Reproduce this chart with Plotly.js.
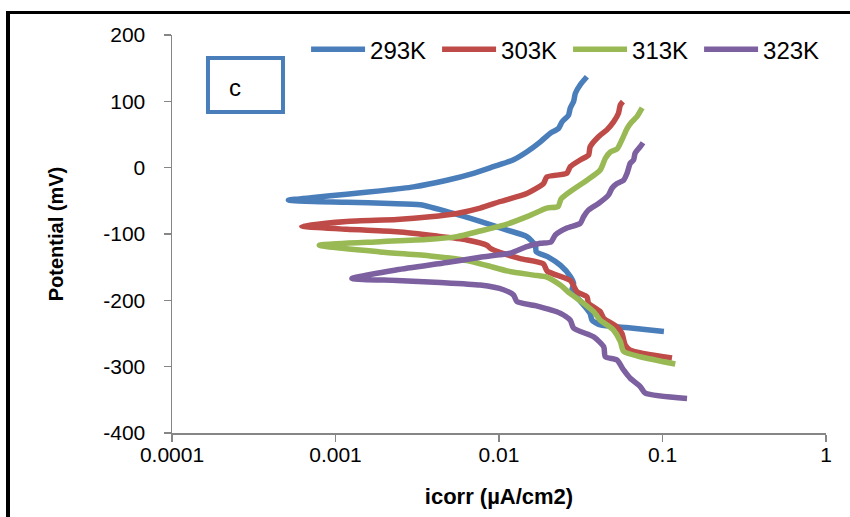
<!DOCTYPE html>
<html>
<head>
<meta charset="utf-8">
<script src="https://cdn.plot.ly/plotly-3.0.1.min.js"></script>
<style>
html,body{margin:0;padding:0;background:#fff;overflow:hidden;}
#wrap{position:relative;width:850px;height:517px;}
#chart{position:absolute;left:0;top:0;width:850px;height:517px;}
#frame{position:absolute;left:6px;top:11px;width:900px;height:600px;border-left:4px solid #000;border-top:3px solid #000;pointer-events:none;}
</style>
</head>
<body>
<div id="wrap"><div id="chart"></div><div id="frame"></div></div>
<script>
// Series names
const seriesNames = ['293K', '303K', '313K', '323K'];

// 293K
const x293 = [0.102, 0.06, 0.0416, 0.0371, 0.0361, 0.0329, 0.0279, 0.0286, 0.0273, 0.0237, 0.0198, 0.0169, 0.0167, 0.0148, 0.0112, 0.00767, 0.00527, 0.0033, 0.00216, 0.00117, 0.000733, 0.000515, 0.000733, 0.00117, 0.001875, 0.0030, 0.0048, 0.00698, 0.00924, 0.01227, 0.01483, 0.0179, 0.0206, 0.0231, 0.0243, 0.0266, 0.0273, 0.0286, 0.0293, 0.0314, 0.0345];
const y293 = [-247, -241, -237, -230, -220, -207, -185, -175, -164, -147, -134, -127, -117, -104, -94, -81, -69, -56, -54, -52, -51, -49, -45, -40, -35, -29, -19, -8.5, 1.5, 12, 24, 39, 52, 59, 69, 79, 90, 100, 112, 125, 137];

// 303K
const x303 = [0.1143, 0.0635, 0.0591, 0.0565, 0.0527, 0.0437, 0.0416, 0.0353, 0.0345, 0.0300, 0.0273, 0.0197, 0.0187, 0.0135, 0.0102, 0.00884, 0.00843, 0.00636, 0.00417, 0.00237, 0.00117, 0.000622, 0.00117, 0.00237, 0.00379, 0.00552, 0.00767, 0.0102, 0.0148, 0.0187, 0.0196, 0.0260, 0.0273, 0.0314, 0.0353, 0.0361, 0.0406, 0.0457, 0.0502, 0.0538, 0.0552, 0.0573];
const y303 = [-287, -275, -267, -250, -240, -227, -217, -204.5, -194.5, -187, -170, -156, -145, -137, -128, -121.5, -117, -109, -103, -96.5, -93, -88, -81, -78, -74, -69, -61, -51, -39, -24, -14, -8.5, 1.5, 11.6, 19, 31.6, 46.7, 57, 69, 82, 94.5, 99.5];

// 313K
const x313 = [0.1197, 0.0731, 0.0578, 0.0552, 0.0502, 0.0457, 0.0416, 0.0379, 0.0329, 0.0273, 0.0237, 0.0196, 0.0163, 0.0114, 0.00843, 0.00636, 0.00379, 0.001875, 0.000796, 0.001875, 0.00379, 0.00552, 0.00767, 0.0112, 0.0151, 0.0196, 0.0230, 0.0240, 0.0273, 0.0345, 0.0416, 0.0447, 0.0480, 0.0527, 0.0565, 0.0607, 0.0644, 0.0698, 0.0751];
const y313 = [-296, -285, -277, -262, -245, -237, -230, -217, -204.5, -190, -177, -165, -162, -156, -147.5, -140, -133, -127, -117, -111.6, -108, -104, -95.5, -85, -73, -61, -58.5, -47, -36, -19, -3.5, 14, 23.6, 28, 42, 59, 68, 77, 90];

// 323K
const x323 = [0.1413, 0.0785, 0.0731, 0.0635, 0.0578, 0.0527, 0.0447, 0.0437, 0.0379, 0.0286, 0.0273, 0.0237, 0.0167, 0.01288, 0.01227, 0.01066, 0.00767, 0.00436, 0.00237, 0.00126, 0.00237, 0.0048, 0.00767, 0.0117, 0.0148, 0.0179, 0.0208, 0.0221, 0.0260, 0.0314, 0.0329, 0.0352, 0.0406, 0.0468, 0.0491, 0.0527, 0.0578, 0.0607, 0.0635, 0.0665, 0.068, 0.0731, 0.076];
const y323 = [-348, -340, -330, -317.5, -305, -290, -285, -270, -255, -242, -230, -219.5, -208, -202, -192, -184, -177, -173, -170, -167, -154, -143, -135, -129, -119, -114, -112, -101.5, -91, -84, -74, -64, -54, -41, -31, -24, -19, -8.5, 6.6, 11.6, 21.7, 31.6, 37.6];

// Axis ticks
const xTickVals = [0.0001, 0.001, 0.01, 0.1, 1];
const xTickText = ['0.0001', '0.001', '0.01', '0.1', '1'];
const yTickVals = [-400, -300, -200, -100, 0, 100, 200];
const yTickText = ['-400', '-300', '-200', '-100', '0', '100', '200'];

const colors = ['#4a7ebb', '#be4b48', '#98b954', '#7d60a0'];
const xs = [x293, x303, x313, x323];
const ys = [y293, y303, y313, y323];

const traces = seriesNames.map((n, i) => ({
  type: 'scatter',
  mode: 'lines',
  name: n,
  x: xs[i],
  y: ys[i],
  line: {color: colors[i], width: 5.5, shape: 'spline', smoothing: 0.6},
  hoverinfo: 'x+y+name'
}));

const font = 'Liberation Sans, Arial, sans-serif';

const layout = {
  width: 850,
  height: 517,
  margin: {l: 172, r: 24, t: 35, b: 84, pad: 0, autoexpand: false},
  paper_bgcolor: '#ffffff',
  plot_bgcolor: '#ffffff',
  font: {family: font, color: '#000', size: 21},
  showlegend: true,
  legend: {
    orientation: 'h',
    x: 0.205, xanchor: 'left',
    y: 0.963, yanchor: 'middle',
    font: {family: font, size: 24, color: '#000'},
    bgcolor: 'rgba(0,0,0,0)',
    itemwidth: 54,
    entrywidth: 62,
    entrywidthmode: 'pixels',
    traceorder: 'normal'
  },
  xaxis: {
    type: 'log',
    range: [-4, 0],
    tickvals: xTickVals,
    ticktext: xTickText,
    ticks: 'outside',
    ticklen: 7,
    tickcolor: '#868686',
    tickwidth: 1.5,
    showline: true,
    linecolor: '#868686',
    linewidth: 1.5,
    showgrid: false,
    zeroline: false,
    tickfont: {family: font, size: 21, color: '#000'},
    ticklabelstandoff: -5,
    title: {text: 'icorr (µA/cm2)', font: {family: font, size: 22, color: '#000', weight: 'bold'}, standoff: 24},
    automargin: false
  },
  yaxis: {
    range: [-400, 200],
    tickvals: yTickVals,
    ticktext: yTickText,
    ticks: 'outside',
    ticklen: 7,
    tickcolor: '#868686',
    tickwidth: 1.5,
    showline: true,
    linecolor: '#868686',
    linewidth: 1.5,
    showgrid: false,
    zeroline: false,
    tickfont: {family: font, size: 21, color: '#000'},
    ticklabelstandoff: 14,
    title: {text: 'Potential (mV)', font: {family: font, size: 20, color: '#000', weight: 'bold'}, standoff: 34},
    automargin: false
  },
  shapes: [{
    type: 'rect', xref: 'paper', yref: 'paper',
    x0: 0.055, x1: 0.1697, y0: 0.8065, y1: 0.942,
    line: {color: '#4a7ebb', width: 4},
    fillcolor: 'rgba(0,0,0,0)'
  }],
  annotations: [{
    xref: 'paper', yref: 'paper', x: 0.0963, y: 0.867,
    text: 'c', showarrow: false,
    font: {family: font, size: 24, color: '#000'},
    xanchor: 'center', yanchor: 'middle'
  }]
};

Plotly.newPlot('chart', traces, layout, {displayModeBar: false, staticPlot: true});
</script>
</body>
</html>
